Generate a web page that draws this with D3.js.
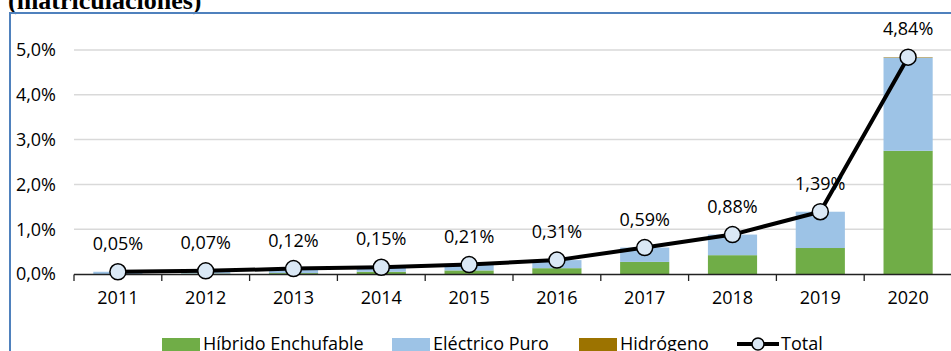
<!DOCTYPE html>
<html>
<head>
<meta charset="utf-8">
<script src="https://cdn.jsdelivr.net/npm/d3@7"></script>
<style>
  body { margin: 0; background: #fff; }
  svg { display: block; font-family: "Open Sans", sans-serif; }
</style>
</head>
<body>
<div id="chart"></div>
<script>
// values in percent of registrations
let years = ['2011','2012','2013','2014','2015','2016','2017','2018','2019','2020'];
let hibrido = [0.00, 0.01, 0.02, 0.05, 0.08, 0.13, 0.27, 0.42, 0.58, 2.75];
let electrico = [0.05, 0.06, 0.10, 0.10, 0.13, 0.18, 0.32, 0.46, 0.81, 2.08];
let hidrogeno = [0, 0, 0, 0, 0, 0, 0, 0, 0, 0.01];
let total = [0.05, 0.07, 0.12, 0.15, 0.21, 0.31, 0.59, 0.88, 1.39, 4.84];
let yTicks = [0, 1, 2, 3, 4, 5];
let seriesNames = ['Híbrido Enchufable', 'Eléctrico Puro', 'Hidrógeno'];
let colors = ['#70ad47', '#9dc3e6', '#9c7300'];

function makeGraph() {
    let w = 951, h = 351;
    let svg = d3.select('#chart')
        .append('svg')
        .attr('width', w)
        .attr('height', h);

    let loc = d3.formatLocale({decimal: ',', thousands: '.', grouping: [3], currency: ['', '€']});
    let fmt1 = loc.format('.1f'), fmt2 = loc.format('.2f');

    // title, cut off at the top
    svg.append('text')
        .attr('x', 8).attr('y', 9)
        .style('font-family', '"Liberation Serif", serif')
        .style('font-weight', 'bold')
        .style('font-size', '26px')
        .text('(matriculaciones)');

    // frame
    svg.append('rect')
        .attr('x', 10).attr('y', 13)
        .attr('width', 1000).attr('height', 400)
        .attr('fill', 'none')
        .attr('stroke', '#4f81bd')
        .attr('stroke-width', 2);

    let xScale = d3.scaleBand()
        .domain(years)
        .range([74, 952])
        .paddingInner(0.44)
        .paddingOuter(0.22);

    let yScale = d3.scaleLinear()
        .domain([0, 5])
        .range([274, 50]);

    // gridlines
    svg.append('g')
        .selectAll('line')
        .data(yTicks.filter(d => d > 0))
        .enter().append('line')
        .attr('x1', 74).attr('x2', 952)
        .attr('y1', d => yScale(d)).attr('y2', d => yScale(d))
        .attr('stroke', '#d9d9d9')
        .attr('stroke-width', 1.5);

    // y labels
    svg.append('g')
        .selectAll('text')
        .data(yTicks)
        .enter().append('text')
        .attr('x', 56)
        .attr('y', d => yScale(d))
        .attr('dy', '0.35em')
        .attr('text-anchor', 'end')
        .style('font-size', '18px')
        .attr('fill', '#000')
        .text(d => fmt1(d) + '%');

    // stacked bars
    let rows = years.map((y, i) => ({year: y, h: hibrido[i], e: electrico[i], g: hidrogeno[i]}));
    let stack = d3.stack().keys(['h', 'e', 'g'])(rows);

    svg.append('g')
        .selectAll('g')
        .data(stack)
        .enter().append('g')
        .attr('fill', (d, i) => colors[i])
        .selectAll('rect')
        .data(d => d)
        .enter().append('rect')
        .attr('x', d => xScale(d.data.year))
        .attr('width', xScale.bandwidth())
        .attr('y', d => yScale(d[1]))
        .attr('height', d => yScale(d[0]) - yScale(d[1]));

    // x axis
    let step = xScale.step();
    let axis = svg.append('g').attr('stroke', '#222').attr('stroke-width', 1.3);
    axis.append('line')
        .attr('x1', 74).attr('x2', 952)
        .attr('y1', 274.5).attr('y2', 274.5);
    axis.selectAll('.tick')
        .data(d3.range(years.length + 1))
        .enter().append('line')
        .attr('x1', i => 74 + i * step).attr('x2', i => 74 + i * step)
        .attr('y1', 274.5).attr('y2', 281);

    svg.append('g')
        .selectAll('text')
        .data(years)
        .enter().append('text')
        .attr('x', d => xScale(d) + xScale.bandwidth() / 2)
        .attr('y', 304)
        .attr('text-anchor', 'middle')
        .style('font-size', '18px')
        .attr('fill', '#000')
        .text(d => d);

    // total line
    let cx = (d, i) => xScale(years[i]) + xScale.bandwidth() / 2;
    let line = d3.line()
        .x((d, i) => cx(d, i))
        .y(d => yScale(d));

    svg.append('path')
        .datum(total)
        .attr('d', line)
        .attr('fill', 'none')
        .attr('stroke', '#000')
        .attr('stroke-width', 4);

    svg.append('g')
        .selectAll('circle')
        .data(total)
        .enter().append('circle')
        .attr('cx', cx)
        .attr('cy', d => yScale(d))
        .attr('r', 8)
        .attr('fill', '#dae8f5')
        .attr('stroke', '#000')
        .attr('stroke-width', 1.5);

    svg.append('g')
        .selectAll('text')
        .data(total)
        .enter().append('text')
        .attr('x', cx)
        .attr('y', d => yScale(d) - 22)
        .attr('text-anchor', 'middle')
        .style('font-size', '18px')
        .attr('fill', '#000')
        .text(d => fmt2(d) + '%');

    // legend
    let legendX = [162, 392, 579];
    let lg = svg.append('g');
    seriesNames.forEach((name, i) => {
        lg.append('rect')
            .attr('x', legendX[i]).attr('y', 338)
            .attr('width', 38).attr('height', 13)
            .attr('fill', colors[i]);
        lg.append('text')
            .attr('x', legendX[i] + 41).attr('y', 350)
            .style('font-size', '18px')
            .attr('fill', '#000')
            .text(name);
    });
    lg.append('line')
        .attr('x1', 737).attr('x2', 779)
        .attr('y1', 344).attr('y2', 344)
        .attr('stroke', '#000').attr('stroke-width', 4);
    lg.append('circle')
        .attr('cx', 758).attr('cy', 344).attr('r', 6)
        .attr('fill', '#dae8f5').attr('stroke', '#000').attr('stroke-width', 1.5);
    lg.append('text')
        .attr('x', 781).attr('y', 350)
        .style('font-size', '18px')
        .attr('fill', '#000')
        .text('Total');
}

window.onload = () => {
    makeGraph();
};
</script>
</body>
</html>
